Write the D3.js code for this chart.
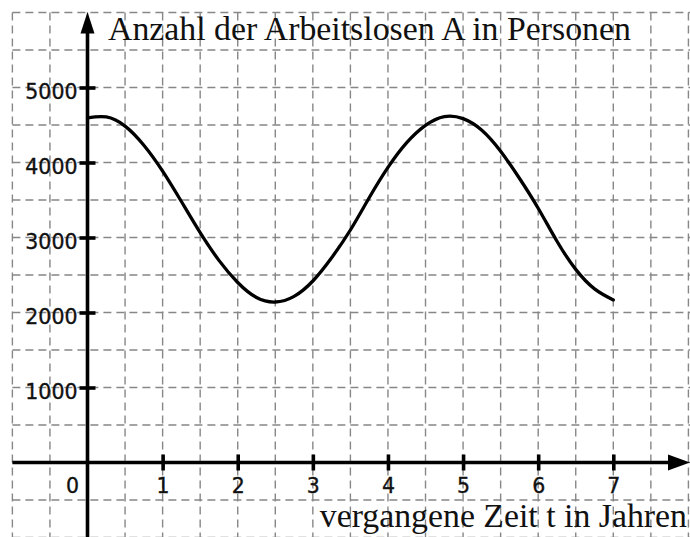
<!DOCTYPE html>
<html>
<head>
<meta charset="utf-8">
<script src="https://cdn.jsdelivr.net/npm/d3@7"></script>
<style>
  html, body { margin: 0; padding: 0; background: #fff; }
  svg { display: block; }
</style>
</head>
<body>
<svg id="chart" width="690" height="537"></svg>
<script>
// ---- data (quarter-year steps) ----
const years = [0, 0.25, 0.5, 0.75, 1, 1.25, 1.5, 1.75, 2, 2.25, 2.5, 2.75, 3, 3.25, 3.5,
               3.75, 4, 4.25, 4.5, 4.75, 5, 5.25, 5.5, 5.75, 6, 6.25, 6.5, 6.75, 7];
const unemployed = [4595, 4607, 4485, 4230, 3885, 3480, 3065, 2695, 2400, 2200, 2140, 2215, 2420, 2730, 3100,
                    3530, 3935, 4265, 4495, 4612, 4585, 4430, 4150, 3790, 3390, 2950, 2575, 2315, 2168];
const xTicks = [0, 1, 2, 3, 4, 5, 6, 7];
const yTicks = [1000, 2000, 3000, 4000, 5000];
const xGrid = d3.range(-1, 8.01, 0.5);
const yGrid = d3.range(-1000, 6001, 500);
const titleText = "Anzahl der Arbeitslosen A in Personen";
const xLabelText = "vergangene Zeit t in Jahren";

const svg = d3.select("#chart");
const W = 690, H = 537;

const x = d3.scaleLinear().domain([0, 7]).range([87.5, 613.3]);
const y = d3.scaleLinear().domain([0, 5000]).range([462.5, 87.5]);

// ---- dashed grid ----
const grid = svg.append("g").attr("stroke", "#878787").attr("stroke-width", 1.4)
  .attr("stroke-dasharray", "8,5").attr("fill", "none");
grid.selectAll("line.v").data(xGrid).join("line").attr("class", "v")
  .attr("x1", d => x(d)).attr("x2", d => x(d))
  .attr("y1", y(6000)).attr("y2", H);
grid.selectAll("line.h").data(yGrid).join("line").attr("class", "h")
  .attr("y1", d => y(d)).attr("y2", d => y(d))
  .attr("x1", x(-1)).attr("x2", W);

// ---- curve ----
const pts = years.map((t, i) => [t, unemployed[i]]);
svg.append("path").datum(pts)
  .attr("fill", "none").attr("stroke", "#000").attr("stroke-width", 3.3)
  .attr("stroke-linecap", "round")
  .attr("d", d3.line().x(d => x(d[0])).y(d => y(d[1])).curve(d3.curveNatural));

// ---- axes ----
const x0 = x(0), y0 = y(0);
// y axis line + arrow
svg.append("line").attr("x1", x0).attr("x2", x0).attr("y1", H).attr("y2", y(6000) + 18)
  .attr("stroke", "#000").attr("stroke-width", 3.6);
svg.append("path")
  .attr("d", `M${x0},${y(6000) - 0.5} L${x0 - 7},${y(6000) + 21} L${x0 + 7},${y(6000) + 21} Z`)
  .attr("fill", "#000");
// x axis line + arrow
svg.append("line").attr("y1", y0).attr("y2", y0).attr("x1", x(-1)).attr("x2", W - 20)
  .attr("stroke", "#000").attr("stroke-width", 3.6);
svg.append("path")
  .attr("d", `M${W},${y0} L${W - 22},${y0 - 8} L${W - 22},${y0 + 8} Z`)
  .attr("fill", "#000");

// y axis ticks via d3 axis
const yAxis = svg.append("g").attr("transform", `translate(${x0},0)`)
  .call(d3.axisLeft(y).tickValues(yTicks).tickSize(8).tickFormat(d3.format("d")));
yAxis.select(".domain").remove();
yAxis.selectAll(".tick line").attr("x1", -8).attr("x2", 8)
  .attr("stroke", "#000").attr("stroke-width", 3.6);
yAxis.selectAll(".tick text")
  .attr("x", -10).attr("dy", null).attr("y", 10.5)
  .attr("font-family", "'DejaVu Sans', Verdana, sans-serif")
  .attr("font-size", 20.5).attr("fill", "#111")
  .attr("stroke", "#111").attr("stroke-width", 0.35);

// x axis ticks via d3 axis
const xAxis = svg.append("g").attr("transform", `translate(0,${y0})`)
  .call(d3.axisBottom(x).tickValues(xTicks).tickSize(8).tickFormat(d3.format("d")));
xAxis.select(".domain").remove();
xAxis.selectAll(".tick line").attr("y1", d => d === 0 ? 0 : -8).attr("y2", d => d === 0 ? 0 : 8)
  .attr("stroke", "#000").attr("stroke-width", 3.6);
xAxis.selectAll(".tick text")
  .attr("dy", null).attr("y", 30.5)
  .attr("x", d => d === 0 ? -15.5 : 0)
  .attr("font-family", "'DejaVu Sans', Verdana, sans-serif")
  .attr("font-size", 20.5).attr("fill", "#111")
  .attr("stroke", "#111").attr("stroke-width", 0.35);

// ---- titles ----
svg.append("text").attr("x", 108).attr("y", 40)
  .attr("font-family", "'Liberation Serif', 'Times New Roman', serif")
  .attr("font-size", 33.8).attr("fill", "#111").text(titleText);
svg.append("text").attr("x", 687).attr("y", 527).attr("text-anchor", "end")
  .attr("font-family", "'Liberation Serif', 'Times New Roman', serif")
  .attr("font-size", 33.8).attr("fill", "#111").text(xLabelText);
</script>
</body>
</html>
